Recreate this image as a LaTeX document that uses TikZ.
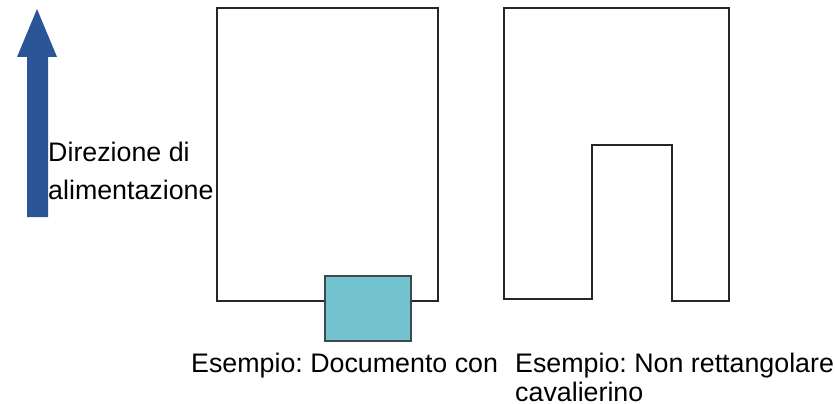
\documentclass[tikz,border=0pt]{standalone}
\usepackage{fontspec}
\setmainfont{Liberation Sans}
\usetikzlibrary{positioning}
\definecolor{feedblue}{HTML}{2A5597}
\definecolor{tabfill}{HTML}{73C2CF}
\definecolor{tabdraw}{HTML}{3A4A4F}
\definecolor{sheetline}{HTML}{262626}
\frenchspacing

\begin{document}
\begin{tikzpicture}[
   x=1pt, y=-1pt,
   sheet/.style={draw=sheetline,line width=2.6pt,line join=miter},
   tabbox/.style={draw=tabdraw,fill=tabfill,line width=1.3pt},
   caption/.style={anchor=north west,inner sep=0pt,align=left,text=black},
   ]
\useasboundingbox (0,0) rectangle (835,404);
%% feed direction arrow
\fill[feedblue] (27,217) -- (27,57) -- (17,57) -- (37,9) -- (57,57)
   -- (48,57) -- (48,217) -- cycle;
\node[caption,font=\fontsize{26.8}{38}\selectfont] (feed) at (48,142)
   {Direzione di\\alimentazione};
%% document with tab
\draw[sheet] (217,8) rectangle (438,301);
\draw[tabbox] (325,276) rectangle (411,341);
\node[caption,font=\fontsize{26.8}{29}\selectfont] (captab) at (191,353)
   {Esempio: Documento con};
%% non rectangular document
\draw[sheet] (504,8) -- (729,8) -- (729,301) -- (672,301) -- (672,145)
   -- (592,145) -- (592,299) -- (504,299) -- cycle;
\node[caption,font=\fontsize{26.8}{29}\selectfont] (capnotch) at (515,353)
   {Esempio: Non rettangolare\\cavalierino};
\end{tikzpicture}
\end{document}
